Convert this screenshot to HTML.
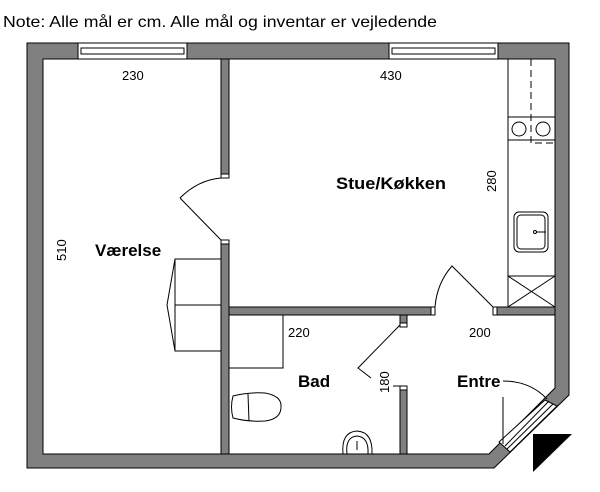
<!DOCTYPE html>
<html><head><meta charset="utf-8"><style>
html,body{margin:0;padding:0;background:#fff;width:600px;height:492px;overflow:hidden}
svg{display:block}
text{font-family:"Liberation Sans",sans-serif}
</style></head><body>
<svg width="600" height="492" viewBox="0 0 600 492" xmlns="http://www.w3.org/2000/svg">
<text x="3" y="27" font-size="16" fill="#000" textLength="434" lengthAdjust="spacingAndGlyphs">Note: Alle mål er cm. Alle mål og inventar er vejledende</text>
<path fill-rule="evenodd" fill="#808080" stroke="#000" stroke-width="1"
 d="M27,43 L569,43 L569,395 L494,468 L27,468 Z M43,59 L555,59 L555,388 L489,454 L43,454 Z"/>
<rect x="78" y="43" width="109" height="16" fill="#fff" stroke="#000"/>
<rect x="81" y="48" width="103" height="6" fill="#fff" stroke="#000"/>
<rect x="389" y="43" width="109" height="16" fill="#fff" stroke="#000"/>
<rect x="392" y="48" width="103" height="6" fill="#fff" stroke="#000"/>
<polygon points="545,400 557,406 510,452 499,442" fill="#fff" stroke="#000"/>
<line x1="549" y1="401" x2="505" y2="446" stroke="#000"/>
<line x1="553" y1="404" x2="507" y2="449" stroke="#000"/>
<polygon points="533,434 572,434 533,472" fill="#000"/>
<line x1="503" y1="397" x2="503" y2="444" stroke="#000"/>
<path d="M503,381 Q530,381 547,399" fill="none" stroke="#000"/>
<rect x="221" y="59" width="8" height="119" fill="#808080" stroke="#000"/>
<rect x="221" y="174" width="8" height="4" fill="#fff" stroke="#000"/>
<rect x="221" y="240" width="8" height="214" fill="#808080" stroke="#000"/>
<rect x="221" y="240" width="8" height="4" fill="#fff" stroke="#000"/>
<rect x="229" y="307" width="206" height="8" fill="#808080" stroke="#000"/>
<rect x="431" y="307" width="4" height="8" fill="#fff" stroke="#000"/>
<rect x="493" y="307" width="62" height="8" fill="#808080" stroke="#000"/>
<rect x="493" y="307" width="4" height="8" fill="#fff" stroke="#000"/>
<rect x="400" y="315" width="7" height="12" fill="#808080" stroke="#000"/>
<rect x="400" y="323" width="7" height="4" fill="#fff" stroke="#000"/>
<rect x="400" y="386" width="7" height="68" fill="#808080" stroke="#000"/>
<rect x="400" y="386" width="7" height="4" fill="#fff" stroke="#000"/>
<line x1="221" y1="240" x2="180" y2="198" stroke="#000"/>
<path d="M180,198 Q198,180 221,178" fill="none" stroke="#000"/>
<path d="M435,307 Q437,283 452,266 L493,307" fill="none" stroke="#000"/>
<path d="M400,325 L358,368 L371,378" fill="none" stroke="#000"/>
<line x1="393" y1="386" x2="400" y2="386" stroke="#000"/>
<rect x="175" y="259" width="46" height="92" fill="#fff" stroke="#000"/>
<line x1="175" y1="305" x2="221" y2="305" stroke="#000"/>
<path d="M175,259 L167,305 L175,351" fill="none" stroke="#000"/>
<rect x="508" y="59" width="47" height="248" fill="none" stroke="#000"/>
<line x1="508" y1="117" x2="555" y2="117" stroke="#000"/>
<line x1="508" y1="140" x2="555" y2="140" stroke="#000"/>
<circle cx="519" cy="129" r="7" fill="none" stroke="#000"/>
<circle cx="543" cy="129" r="7" fill="none" stroke="#000"/>
<path d="M531,59 L531,143 L555,143" fill="none" stroke="#000" stroke-dasharray="7,4"/>
<rect x="514" y="212" width="34" height="40" rx="5" fill="none" stroke="#000"/>
<rect x="517" y="215" width="28" height="34" rx="4" fill="none" stroke="#000"/>
<line x1="536" y1="232" x2="546" y2="232" stroke="#000"/>
<circle cx="535" cy="232" r="1.5" fill="none" stroke="#000"/>
<rect x="508" y="276" width="47" height="31" fill="none" stroke="#000"/>
<line x1="508" y1="276" x2="555" y2="307" stroke="#000"/>
<line x1="555" y1="276" x2="508" y2="307" stroke="#000"/>
<rect x="229" y="315" width="54" height="53" fill="none" stroke="#000"/>
<path d="M233,396 Q248,392 265,393 Q282,396 281,407 Q281,419 265,421 Q248,422 233,418 Q230,407 233,396 Z" fill="none" stroke="#000"/>
<line x1="248" y1="394" x2="249" y2="421" stroke="#000"/>
<path d="M343,454 Q341,432 357,431 Q373,432 372,454" fill="none" stroke="#000"/>
<path d="M347,454 Q345,437 357,436 Q369,437 368,454" fill="none" stroke="#000"/>
<line x1="357" y1="441" x2="357" y2="450" stroke="#000"/>
<text x="122" y="80" font-size="13">230</text>
<text x="380" y="80" font-size="13">430</text>
<text x="288" y="337" font-size="13">220</text>
<text x="469" y="337" font-size="13">200</text>
<text transform="translate(66,261) rotate(-90)" font-size="13">510</text>
<text transform="translate(496,192) rotate(-90)" font-size="13">280</text>
<text transform="translate(389,393) rotate(-90)" font-size="13">180</text>
<text x="95" y="256" font-size="17" font-weight="bold">Værelse</text>
<text x="336" y="189" font-size="17" font-weight="bold" textLength="110" lengthAdjust="spacingAndGlyphs">Stue/Køkken</text>
<text x="298" y="387" font-size="17" font-weight="bold">Bad</text>
<text x="457" y="387" font-size="17" font-weight="bold">Entre</text>
</svg>
</body></html>
